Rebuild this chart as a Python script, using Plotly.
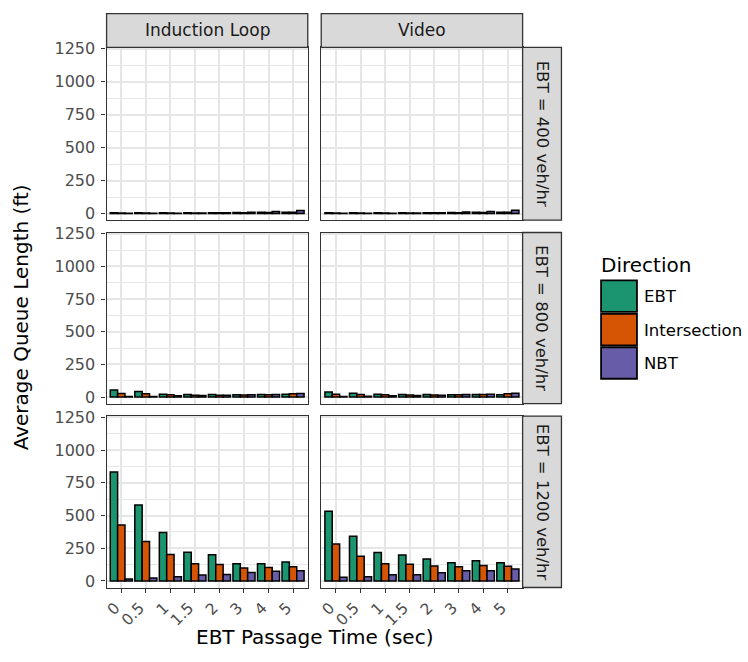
import plotly.graph_objects as go
from plotly.subplots import make_subplots

# Categories and factor levels
categories = ["0", "0.5", "1", "1.5", "2", "3", "4", "5"]
directions = ["EBT", "Intersection", "NBT"]
direction_colors = ["#1B9470", "#D55504", "#675CA8"]
detectors = ["Induction Loop", "Video"]
volume_labels = ["EBT = 400 veh/hr", "EBT = 800 veh/hr", "EBT = 1200 veh/hr"]
y_ticks = [0, 250, 500, 750, 1000, 1250]

# Average queue length (ft) by passage time
loop_400_ebt = [6, 6, 6, 6, 6, 7, 9, 10]
loop_400_int = [4, 4, 4, 4, 5, 6, 8, 10]
loop_400_nbt = [2, 2, 3, 4, 5, 10, 15, 22]
video_400_ebt = [5, 5, 5, 5, 6, 7, 9, 10]
video_400_int = [4, 4, 4, 4, 5, 6, 8, 10]
video_400_nbt = [2, 2, 3, 4, 6, 12, 16, 24]

loop_800_ebt = [55, 42, 22, 20, 20, 18, 20, 22]
loop_800_int = [28, 25, 18, 15, 15, 16, 18, 25]
loop_800_nbt = [5, 5, 10, 12, 14, 18, 20, 28]
video_800_ebt = [38, 30, 22, 20, 20, 18, 20, 18]
video_800_int = [22, 20, 18, 16, 16, 18, 20, 25]
video_800_nbt = [4, 6, 10, 12, 15, 20, 22, 30]

loop_1200_ebt = [832, 580, 370, 220, 200, 132, 132, 145]
loop_1200_int = [427, 302, 202, 132, 125, 100, 102, 108]
loop_1200_nbt = [15, 22, 32, 45, 50, 65, 75, 78]
video_1200_ebt = [532, 342, 218, 198, 168, 140, 155, 140]
video_1200_int = [282, 188, 132, 128, 115, 108, 118, 112]
video_1200_nbt = [28, 32, 48, 48, 62, 78, 78, 92]

panels = [
    [[loop_400_ebt, loop_400_int, loop_400_nbt], [video_400_ebt, video_400_int, video_400_nbt]],
    [[loop_800_ebt, loop_800_int, loop_800_nbt], [video_800_ebt, video_800_int, video_800_nbt]],
    [[loop_1200_ebt, loop_1200_int, loop_1200_nbt], [video_1200_ebt, video_1200_int, video_1200_nbt]],
]

W, H = 748, 662
FONT = "DejaVu Sans, Liberation Sans, Arial, sans-serif"
GRID = "#E6E6E6"


def px_x(x):
    return x / W


def px_y(y):
    return 1 - y / H


# Panel geometry (pixels)
col_x = [(104, 306), (319.5, 521.7)]
row_y = [(40, 215.7), (228.3, 402.3), (415, 589.3)]
strip_top = (5.7, 40)
strip_right = (521.7, 560.7)

fig = make_subplots(rows=3, cols=2)

for r in range(3):
    for c in range(2):
        for k, name in enumerate(directions):
            fig.add_trace(
                go.Bar(
                    x=categories,
                    y=panels[r][c][k],
                    name=name,
                    marker=dict(color=direction_colors[k], line=dict(color="black", width=1.5)),
                    showlegend=False,
                ),
                row=r + 1,
                col=c + 1,
            )

layout_axes = {}
for r in range(3):
    for c in range(2):
        idx = r * 2 + c + 1
        suffix = "" if idx == 1 else str(idx)
        x0, x1 = col_x[c]
        y0, y1 = row_y[r]
        layout_axes["xaxis" + suffix] = dict(
            domain=[px_x(x0), px_x(x1)],
            type="category",
            categoryorder="array",
            categoryarray=categories,
            range=[-0.6, 7.6],
            showgrid=True,
            gridcolor=GRID,
            gridwidth=1.6,
            showline=True,
            mirror=True,
            linecolor="#333333",
            linewidth=1.3,
            ticks="outside" if r == 2 else "",
            ticklen=4,
            tickwidth=1.3,
            tickcolor="#333333",
            showticklabels=(r == 2),
            tickangle=-45,
            ticklabelshift=-6,
            tickfont=dict(family=FONT, size=15.5, color="#4D4D4D"),
            zeroline=False,
        )
        layout_axes["yaxis" + suffix] = dict(
            domain=[px_y(y1), px_y(y0)],
            range=[-50, 1260],
            tickvals=y_ticks,
            showgrid=True,
            gridcolor=GRID,
            gridwidth=1.6,
            minor=dict(dtick=125, tick0=125, showgrid=True, gridcolor=GRID, gridwidth=1.2, ticks=""),
            showline=True,
            mirror=True,
            linecolor="#333333",
            linewidth=1.3,
            ticks="outside" if c == 0 else "",
            ticklen=4,
            tickwidth=1.3,
            tickcolor="#333333",
            showticklabels=(c == 0),
            ticklabelstandoff=3,
            tickfont=dict(family=FONT, size=16, color="#4D4D4D"),
            zeroline=False,
        )

fig.update_layout(**layout_axes)

shapes = []
annotations = []

# Column strips
for c, label in enumerate(detectors):
    x0, x1 = col_x[c]
    shapes.append(dict(type="rect", xref="paper", yref="paper",
                       x0=px_x(x0), x1=px_x(x1), y0=px_y(strip_top[1]), y1=px_y(strip_top[0]),
                       fillcolor="#D9D9D9", line=dict(color="#333333", width=1.3)))
    annotations.append(dict(xref="paper", yref="paper", x=px_x((x0 + x1) / 2), y=px_y(sum(strip_top) / 2),
                            text=label, showarrow=False, xanchor="center", yanchor="middle",
                            font=dict(family=FONT, size=17, color="#1A1A1A")))

# Row strips
for r, label in enumerate(volume_labels):
    y0, y1 = row_y[r]
    shapes.append(dict(type="rect", xref="paper", yref="paper",
                       x0=px_x(strip_right[0]), x1=px_x(strip_right[1]), y0=px_y(y1), y1=px_y(y0),
                       fillcolor="#D9D9D9", line=dict(color="#333333", width=1.3)))
    annotations.append(dict(xref="paper", yref="paper", x=px_x(sum(strip_right) / 2), y=px_y((y0 + y1) / 2),
                            text=label, showarrow=False, textangle=90, xanchor="center", yanchor="middle",
                            font=dict(family=FONT, size=16.5, color="#1A1A1A")))

# Axis titles
annotations.append(dict(xref="paper", yref="paper", x=px_x((col_x[0][0] + col_x[1][1]) / 2), y=px_y(640),
                        text="EBT Passage Time (sec)", showarrow=False, xanchor="center", yanchor="middle",
                        font=dict(family=FONT, size=20, color="black")))
annotations.append(dict(xref="paper", yref="paper", x=px_x(18), y=px_y((row_y[0][0] + row_y[2][1]) / 2),
                        text="Average Queue Length (ft)", showarrow=False, textangle=-90,
                        xanchor="center", yanchor="middle",
                        font=dict(family=FONT, size=20, color="black")))

# Legend
annotations.append(dict(xref="paper", yref="paper", x=px_x(598), y=px_y(261),
                        text="Direction", showarrow=False, xanchor="left", yanchor="middle",
                        font=dict(family=FONT, size=20, color="black")))
key_tops = [277, 311, 345]
for k, name in enumerate(directions):
    t = key_tops[k]
    shapes.append(dict(type="rect", xref="paper", yref="paper",
                       x0=px_x(600.5), x1=px_x(636.5), y0=px_y(t + 32), y1=px_y(t),
                       fillcolor=direction_colors[k], line=dict(color="black", width=1.8)))
    annotations.append(dict(xref="paper", yref="paper", x=px_x(642), y=px_y(t + 16.5),
                            text=name, showarrow=False, xanchor="left", yanchor="middle",
                            font=dict(family=FONT, size=16.5, color="black")))

fig.update_layout(
    shapes=shapes,
    annotations=annotations,
    barmode="group",
    bargap=0.1,
    bargroupgap=0,
    width=W,
    height=H,
    autosize=False,
    margin=dict(l=0, r=0, t=0, b=0),
    paper_bgcolor="white",
    plot_bgcolor="white",
    font=dict(family=FONT),
    showlegend=False,
)

fig.write_html("out.html")
